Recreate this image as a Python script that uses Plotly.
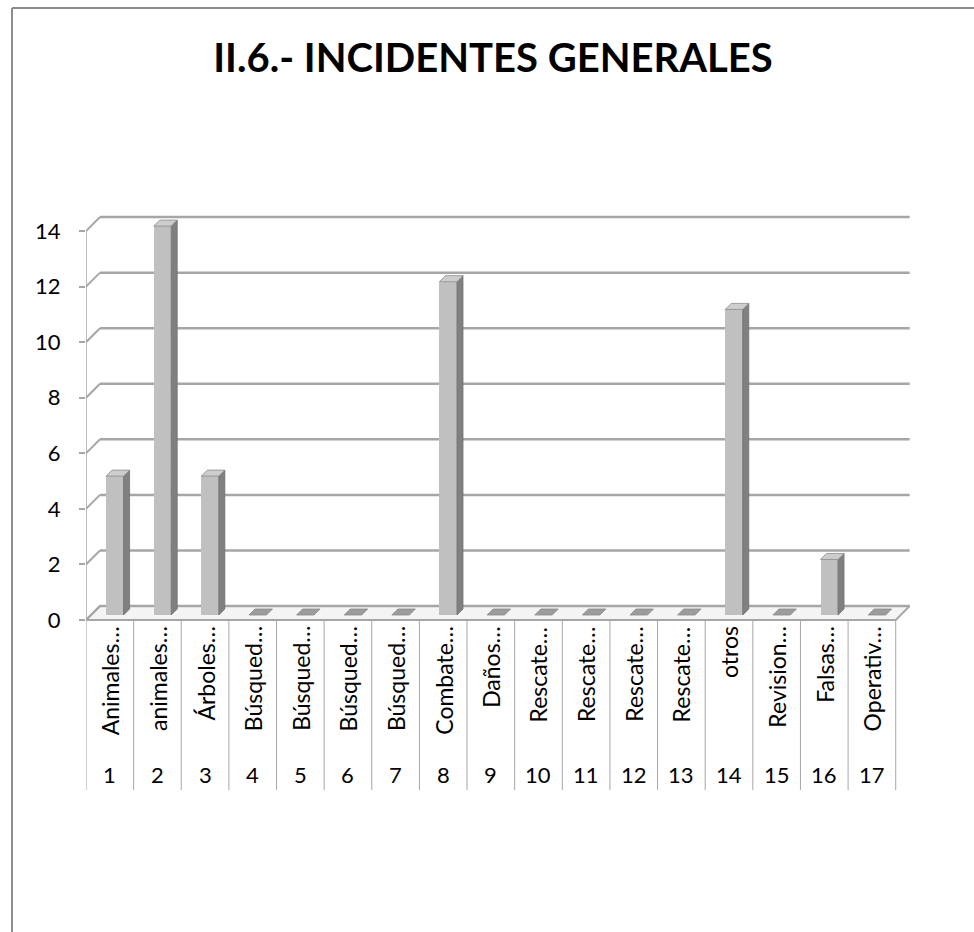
import plotly.graph_objects as go

# ---------------- data ----------------
categories = list(range(1, 18))
labels = ["Animales…", "animales…", "Árboles…", "Búsqued…", "Búsqued…", "Búsqued…",
          "Búsqued…", "Combate…", "Daños…", "Rescate…", "Rescate…", "Rescate…",
          "Rescate…", "otros", "Revision…", "Falsas…", "Operativ…"]
values = [5, 14, 5, 0, 0, 0, 0, 12, 0, 0, 0, 0, 0, 11, 0, 2, 0]
y_ticks = [0, 2, 4, 6, 8, 10, 12, 14]
title_text = "II.6.- INCIDENTES GENERALES"

# ---------------- layout geometry ----------------
W, H = 974, 932
L, R, T, B = 86, 64, 200, 132
PX_PER_UNIT_Y = 27.78
ZERO_PX = 620
x_range = [0.5, 17.8]
px_per_cat = (W - L - R) / (x_range[1] - x_range[0])
y_top = 14 + (ZERO_PX - 14 * PX_PER_UNIT_Y - T) / PX_PER_UNIT_Y
y_bot = -(H - B - ZERO_PX) / PX_PER_UNIT_Y
DEPTH = 14  # px
dx = DEPTH / px_per_cat
dy = DEPTH / PX_PER_UNIT_Y
dxf, dyf = 5 / px_per_cat, 5 / PX_PER_UNIT_Y
dxb, dyb = 11 / px_per_cat, 11 / PX_PER_UNIT_Y
half = 0.184
n = len(categories)
x_lo, x_hi = categories[0] - 0.5, categories[-1] + 0.5

FONT = "Lato"
GRID = "#a6a6a6"

fig = go.Figure()

# front faces of bars
fig.add_trace(go.Bar(
    x=[c + dxf for c in categories], y=values, base=dyf, width=2 * half,
    marker=dict(color="#c0c0c0", line=dict(width=0)), hoverinfo="skip", showlegend=False))

# side and top faces
sx, sy = [], []
tx, ty, zx, zy = [], [], [], []
for c, v in zip(categories, values):
    xr = c + half
    xl = c - half
    if v > 0:
        sx += [xr + dxf, xr + dxb, xr + dxb, xr + dxf, xr + dxf, None]
        sy += [dyf, dyb, dyb + v, dyf + v, dyf, None]
        tx += [xl + dxf, xr + dxf, xr + dxb, xl + dxb, xl + dxf, None]
        ty += [dyf + v, dyf + v, dyb + v, dyb + v, dyf + v, None]
    else:
        zx += [xl + dxf, xr + dxf, xr + dxb, xl + dxb, xl + dxf, None]
        zy += [dyf, dyf, dyb, dyb, dyf, None]

fig.add_trace(go.Scatter(x=sx, y=sy, mode="lines", fill="toself", fillcolor="#808080",
                         line=dict(color="#707070", width=0.8), hoverinfo="skip", showlegend=False))
fig.add_trace(go.Scatter(x=tx, y=ty, mode="lines", fill="toself", fillcolor="#cdcdcd",
                         line=dict(color="#8c8c8c", width=0.8), hoverinfo="skip", showlegend=False))
fig.add_trace(go.Scatter(x=zx, y=zy, mode="lines", fill="toself", fillcolor="#9c9c9c",
                         line=dict(color="#8c8c8c", width=0.8), hoverinfo="skip", showlegend=False))

shapes = []
# floor
shapes.append(dict(type="path", xref="x", yref="y", layer="below",
                   path=f"M {x_lo},0 L {x_hi},0 L {x_hi + dx},{dy} L {x_lo + dx},{dy} Z",
                   fillcolor="#f4f4f4", line=dict(color=GRID, width=2)))
# back wall gridlines + left wall diagonals
for v in y_ticks:
    shapes.append(dict(type="line", xref="x", yref="y", layer="below",
                       x0=x_lo + dx, x1=x_hi + dx, y0=v + dy, y1=v + dy,
                       line=dict(color=GRID, width=2.5)))
    shapes.append(dict(type="line", xref="x", yref="y", layer="below",
                       x0=x_lo, x1=x_lo + dx, y0=v, y1=v + dy,
                       line=dict(color=GRID, width=2)))
# front vertical axis line
shapes.append(dict(type="line", xref="x", yref="y", layer="below",
                   x0=x_lo, x1=x_lo, y0=0, y1=y_ticks[-1], line=dict(color=GRID, width=1.5)))
# category separators
sep_bottom = -(790 - ZERO_PX) / PX_PER_UNIT_Y
for k in range(n + 1):
    xs = x_lo + k
    shapes.append(dict(type="line", xref="x", yref="y", layer="below",
                       x0=xs, x1=xs, y0=0, y1=sep_bottom, line=dict(color=GRID, width=1)))

# chart border (left and top)
def px2paper_x(px):
    return (px - L) / (W - L - R)

def px2paper_y(py):
    return (H - B - py) / (H - T - B)

shapes.append(dict(type="line", xref="paper", yref="paper",
                   x0=px2paper_x(12), x1=px2paper_x(12), y0=px2paper_y(8), y1=px2paper_y(H + 5),
                   line=dict(color="#8c8c8c", width=2)))
shapes.append(dict(type="line", xref="paper", yref="paper",
                   x0=px2paper_x(12), x1=px2paper_x(W + 5), y0=px2paper_y(8), y1=px2paper_y(8),
                   line=dict(color="#8c8c8c", width=2)))

annotations = []
name_top = -(624 - ZERO_PX) / PX_PER_UNIT_Y
num_y = -(774 - ZERO_PX) / PX_PER_UNIT_Y
for c, lab in zip(categories, labels):
    annotations.append(dict(x=c, y=name_top, xref="x", yref="y", text=lab, textangle=-90,
                            showarrow=False, xanchor="center", yanchor="top",
                            font=dict(family=FONT, size=23, color="#000")))
    annotations.append(dict(x=c, y=num_y, xref="x", yref="y", text=str(c),
                            showarrow=False, xanchor="center", yanchor="middle",
                            font=dict(family=FONT, size=22, color="#000")))

fig.update_layout(
    width=W, height=H,
    margin=dict(l=L, r=R, t=T, b=B, pad=0),
    paper_bgcolor="white", plot_bgcolor="white",
    title=dict(text=f"<b>{title_text}</b>", x=493 / W, xanchor="center",
               y=1 - 58 / H, yanchor="middle", yref="container",
               font=dict(family=FONT, size=40, color="#000")),
    xaxis=dict(range=x_range, showticklabels=False, showgrid=False, zeroline=False,
               showline=False, ticks=""),
    yaxis=dict(range=[y_bot, y_top], tickvals=y_ticks, ticks="outside", ticklen=6,
               tickcolor=GRID, tickwidth=1.5, showgrid=False, zeroline=False, showline=False,
               ticklabelstandoff=14, tickfont=dict(family=FONT, size=22, color="#000")),
    shapes=shapes, annotations=annotations, showlegend=False, bargap=0,
)

fig.write_html("out.html", config={"displayModeBar": False},
               post_script="document.body.style.margin='0';document.body.style.overflow='hidden';")
